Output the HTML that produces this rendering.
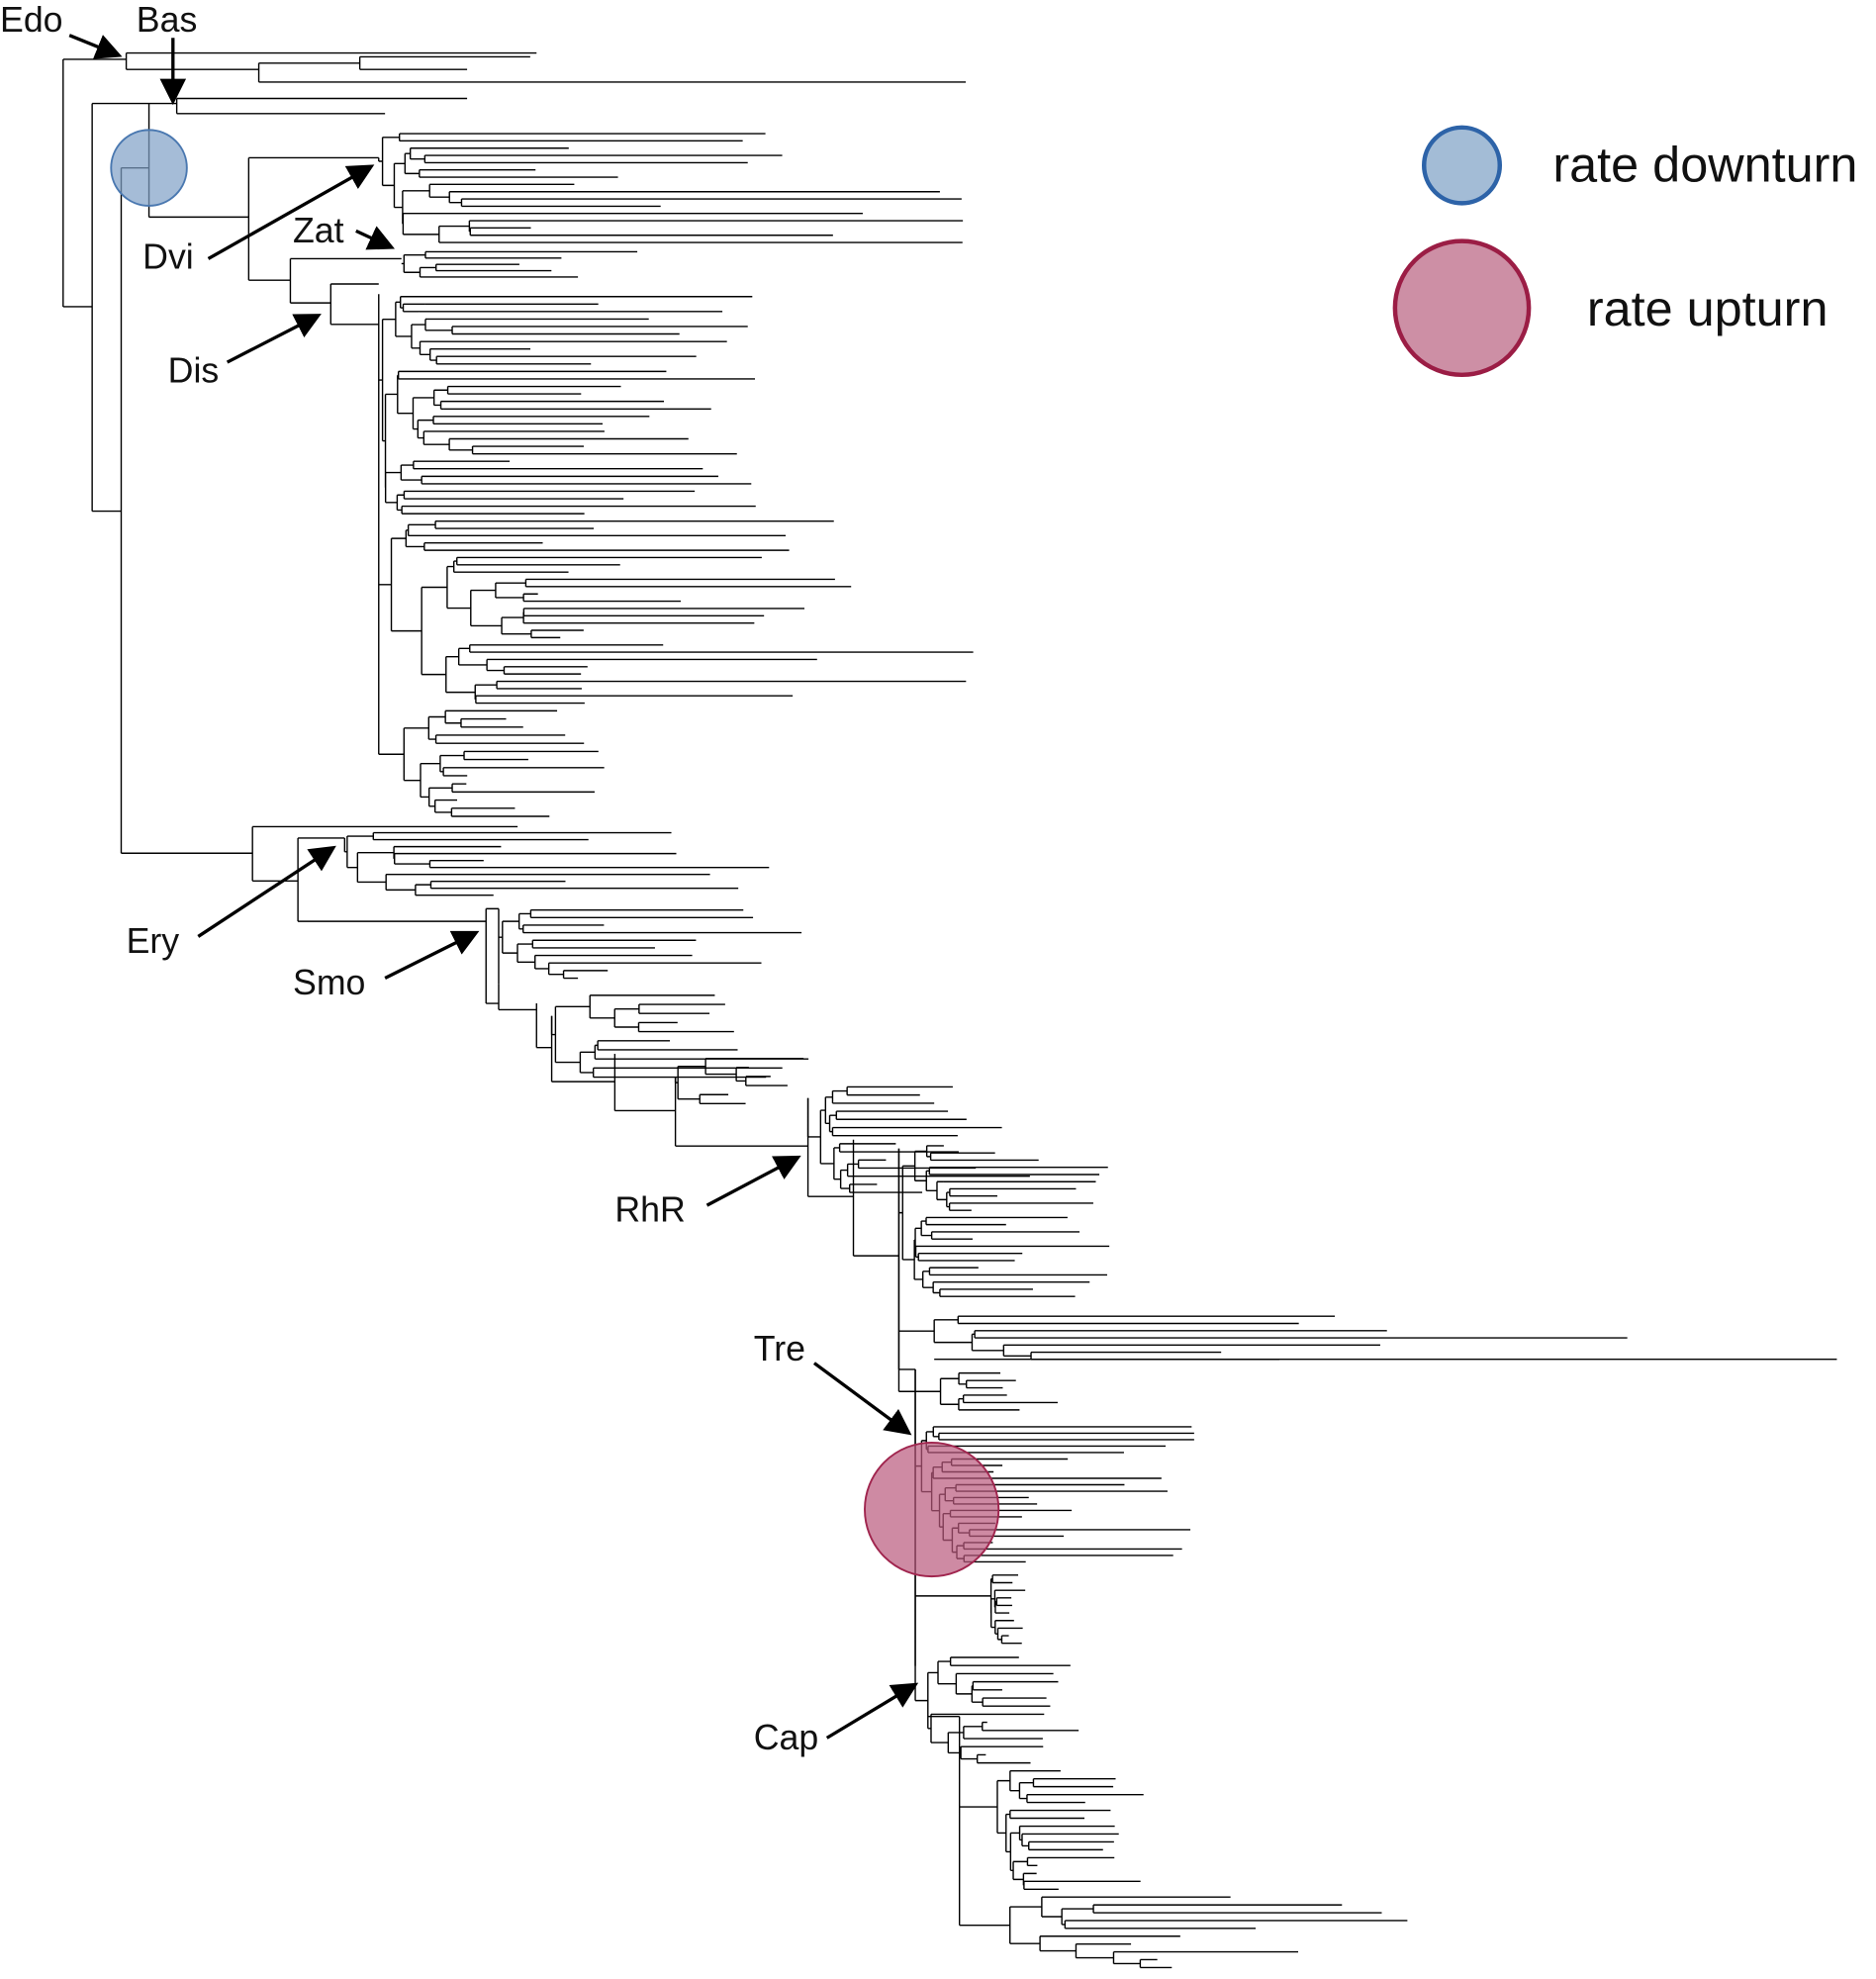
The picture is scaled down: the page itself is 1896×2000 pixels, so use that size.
<!DOCTYPE html>
<html><head><meta charset="utf-8"><style>
html,body{margin:0;padding:0;background:#fff;}
svg{display:block;}
text{font-family:"Liberation Sans",sans-serif;fill:#111;}
</style></head><body>
<svg id="s" width="1896" height="2000" viewBox="0 0 1486 1568" preserveAspectRatio="none" xmlns="http://www.w3.org/2000/svg">
<defs><marker id="ah" markerWidth="8" markerHeight="8" refX="6" refY="4" orient="auto" markerUnits="strokeWidth"><path d="M0,0 L8,4 L0,8 z" fill="#000"/></marker></defs>
<g id="tree" stroke="#000" stroke-width="1.1" fill="none">
<path d="M50,47 V243 M50,47 H100 M100,42 V55 M100,42 H425 M100,55 H205 M205,50 V65 M205,50 H285 M285,45 V55 M285,45 H420 M285,55 H370 M205,65 H765
M50,243 H73 M73,82 V405 M73,82 H118 M73,405 H96
M118,82 H140 M140,78 V90 M140,78 H370 M140,90 H305 M118,82 V172 M96,133 H118 M118,172 H197
M96,133 V676 M197,125 V222 M197,125 H300 M197,222 H230 M230,205 V240 M230,205 H318 M230,240 H262 M262,225 V257 M262,225 H300 M262,257 H300
M96,676 H200 M200,655 V698 M200,655 H410 M200,698 H236 M236,664 V730 M236,664 H273 M236,730 H385
M385,720 V795 M385,720 H395 M385,795 H395 M395,780 V800 M395,800 H425 M425,795 V830 M425,830 H437 M437,805 V857 M437,857 H487 M487,835 V880 M487,880 H535 M535,853 V908 M535,908 H640 M640,870 V948 M640,948 H676 M676,903 V995 M676,995 H712 M712,910 V1085 M712,1085 H725 M725,1085 V1320"/>
</g>
<g stroke="#000" stroke-width="2.6" fill="none" marker-end="url(#ah)">
<line x1="55" y1="28" x2="92" y2="43"/>
<line x1="137" y1="30" x2="137" y2="78"/>
<line x1="165" y1="205" x2="292" y2="133"/>
<line x1="282" y1="183" x2="308" y2="195"/>
<line x1="180" y1="287" x2="250" y2="251"/>
<line x1="157" y1="742" x2="262" y2="673"/>
<line x1="305" y1="775" x2="375" y2="740"/>
<line x1="560" y1="955" x2="630" y2="918"/>
<line x1="645" y1="1080" x2="718" y2="1134"/>
<line x1="655" y1="1377" x2="723" y2="1336"/>
</g>
<g font-size="28">
<text x="0" y="25">Edo</text><text x="108" y="25">Bas</text><text x="113" y="213">Dvi</text>
<text x="232" y="192">Zat</text><text x="133" y="303">Dis</text><text x="100" y="755">Ery</text>
<text x="232" y="788">Smo</text><text x="487" y="968">RhR</text><text x="597" y="1078">Tre</text>
<text x="597" y="1386">Cap</text>
</g>
<circle cx="118" cy="133" r="30" fill="#7fa0c6" fill-opacity="0.7" stroke="#4a78b0" stroke-width="1.5"/>
<circle cx="738" cy="1196" r="53" fill="#b9587c" fill-opacity="0.7" stroke="#a0254e" stroke-width="1.5"/>
<circle cx="1158" cy="131" r="30" fill="#a3bcd6" stroke="#2d63a8" stroke-width="3.5"/>
<circle cx="1158" cy="244" r="53" fill="#cd8fa5" stroke="#9b1d45" stroke-width="3.5"/>
<text x="1230" y="144" font-size="39.5">rate downturn</text>
<text x="1257" y="258" font-size="39.5">rate upturn</text>
</svg>
<script>
var seed=11;function r(){seed=(seed*16807)%2147483647;return (seed-1)/2147483646;}
var d="";
function node(x,y0,y1,n,minE,maxE,step){
 if(n<=1){var y=(y0+y1)/2;var e=minE+r()*(maxE-minE);if(e<x+3)e=x+3;d+="M"+x.toFixed(1)+","+y.toFixed(1)+"H"+e.toFixed(1);return y;}
 var k=Math.max(1,Math.min(n-1,Math.round(n*(0.15+r()*0.5))));
 var ym=y0+(y1-y0)*k/n;
 var xa=x+r()*step,xb=x+r()*step;
 var ca=node(xa,y0,ym,k,minE,maxE,step);
 var cb=node(xb,ym,y1,n-k,minE,maxE,step);
 d+="M"+x.toFixed(1)+","+ca.toFixed(1)+"H"+xa.toFixed(1)+"M"+x.toFixed(1)+","+cb.toFixed(1)+"H"+xb.toFixed(1);
 d+="M"+x.toFixed(1)+","+ca.toFixed(1)+"V"+cb.toFixed(1);
 return (ca+cb)/2;
}
function clade(px,x,y0,y1,n,minE,maxE,step){
 var y=node(x,y0,y1,n,minE,maxE,step);
 if(px!==null){d+="M"+px+","+y.toFixed(1)+"H"+x;}
 return y;
}
function vjoin(px,ys){var a=Math.min.apply(null,ys),b=Math.max.apply(null,ys);d+="M"+px+","+a.toFixed(1)+"V"+b.toFixed(1);}
vjoin(300,[125,clade(300,303,103,195,16,420,780,30)]);
clade(318,320,197,222,5,400,505,25);
var a1=clade(300,303,232,410,30,400,600,22);
var a2=clade(300,310,410,560,26,420,785,25);
var a3=clade(300,320,560,650,14,360,500,20);
vjoin(300,[233,a1,a2,a3]);
vjoin(273,[664,clade(273,275,657,712,10,380,612,30)]);
vjoin(395,[720,780,clade(395,398,718,778,10,420,660,15)]);
vjoin(437,[805,clade(437,440,785,857,10,520,650,30)]);
vjoin(535,[853,clade(535,537,835,878,6,560,645,25)]);
vjoin(640,[870,clade(640,650,858,948,14,680,830,12)]);
var b1=clade(712,715,905,1030,22,740,880,12);
var b2=clade(712,740,1040,1080,7,900,1352,40);
d+="M740,1077H1455";
var b3=clade(712,745,1085,1120,6,790,860,15);
vjoin(712,[910,b1,b2,b3]);
var c1=clade(725,730,1128,1240,22,780,975,10);
var c2=clade(725,785,1245,1305,10,795,815,4);
var c3=clade(725,735,1310,1400,14,760,860,15);
vjoin(725,[1085,c1,c2,c3]);
vjoin(760,[1360,clade(760,790,1400,1500,16,810,910,12),clade(760,800,1500,1562,10,850,1120,40)]);
d+="M735,1360H760";
var p=document.createElementNS("http://www.w3.org/2000/svg","path");
p.setAttribute("d",d);
document.getElementById("tree").appendChild(p);
</script>
</body></html>
